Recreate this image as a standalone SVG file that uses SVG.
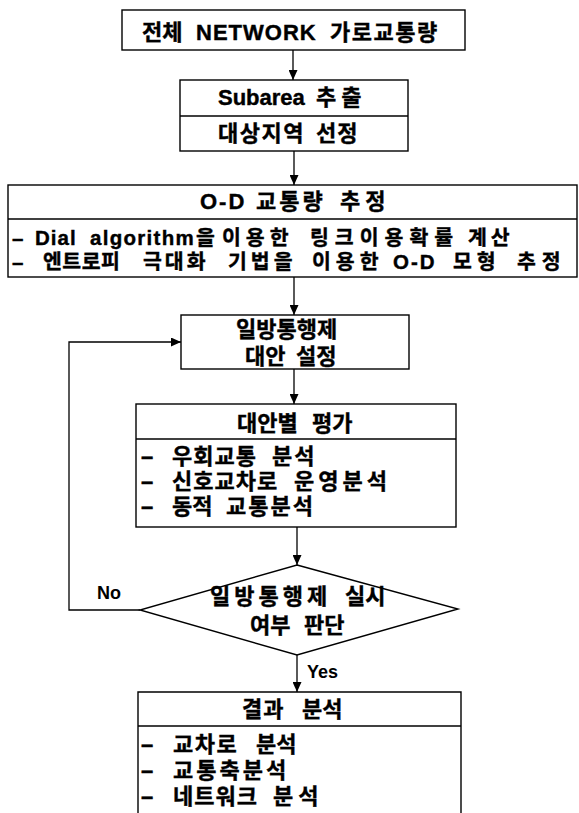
<svg xmlns="http://www.w3.org/2000/svg" width="579" height="813" viewBox="0 0 579 813">
<style>
.box{fill:none;stroke:#000;stroke-width:1.4}
.ln{fill:none;stroke:#000;stroke-width:1.3}
.t{font-family:"Liberation Sans","Noto Sans CJK KR",sans-serif;font-weight:bold;font-size:22px;fill:#000;stroke:#000;stroke-width:0.4}
.s{font-size:20.5px}
.lbl{font-family:"Liberation Sans","Noto Sans CJK KR",sans-serif;font-weight:bold;font-size:18px;fill:#000}
</style>
<defs>
<marker id="ah" markerUnits="userSpaceOnUse" markerWidth="10" markerHeight="9" refX="10" refY="4.5" orient="auto">
<path d="M0,0 L10,4.5 L0,9 z" fill="#000"/>
</marker>
</defs>
<rect width="579" height="813" fill="#fff"/>
<g id="connectors">
<line class="ln" x1="293" y1="50" x2="293" y2="80" marker-end="url(#ah)"/>
<line class="ln" x1="294" y1="151" x2="294" y2="185" marker-end="url(#ah)"/>
<line class="ln" x1="294" y1="277" x2="294" y2="315" marker-end="url(#ah)"/>
<line class="ln" x1="294" y1="369" x2="294" y2="404" marker-end="url(#ah)"/>
<line class="ln" x1="297" y1="527" x2="297" y2="565" marker-end="url(#ah)"/>
<line class="ln" x1="297" y1="655" x2="297" y2="692" marker-end="url(#ah)"/>
<polyline class="ln" points="140,610 69,610 69,342 181,342" marker-end="url(#ah)"/>
<text class="lbl" x="97" y="599">No</text>
<text class="lbl" x="307" y="678">Yes</text>
</g>
<g id="n1">
<rect class="box" x="122" y="10" width="343" height="40"/>
<text class="t" y="40"><tspan x="142">전체 </tspan><tspan x="196" letter-spacing="1">NETWORK </tspan><tspan x="330" letter-spacing="1.5">가로교통량</tspan></text>
</g>
<g id="n2">
<rect class="box" x="180" y="80" width="228" height="71"/>
<line class="box" x1="180" y1="116" x2="408" y2="116"/>
<text class="t" y="105"><tspan x="218">Subarea </tspan><tspan x="316" letter-spacing="5">추출</tspan></text>
<text class="t" y="141"><tspan x="218" letter-spacing="1.5">대상지역 </tspan><tspan x="316" letter-spacing="1">선정</tspan></text>
</g>
<g id="n3">
<rect class="box" x="8" y="185" width="569" height="92"/>
<line class="box" x1="8" y1="219" x2="577" y2="219"/>
<text class="t" y="209"><tspan x="200" letter-spacing="2">O-D </tspan><tspan x="256" letter-spacing="3">교통량 </tspan><tspan x="340" letter-spacing="5">추정</tspan></text>
<text class="t s" y="245"><tspan x="12">– </tspan><tspan x="35" letter-spacing="1">Dial </tspan><tspan x="90" letter-spacing="1.3">algorithm</tspan><tspan x="196">을 </tspan><tspan x="222" letter-spacing="5">이용한 </tspan><tspan x="310" letter-spacing="6">링크이용확률 </tspan><tspan x="468" letter-spacing="4">계산</tspan></text>
<text class="t s" y="269"><tspan x="12">– </tspan><tspan x="43" letter-spacing="0.5">엔트로피 </tspan><tspan x="143" letter-spacing="3">극대화 </tspan><tspan x="228" letter-spacing="4">기법을 </tspan><tspan x="312" letter-spacing="5">이용한 </tspan><tspan x="393" letter-spacing="2">O-D </tspan><tspan x="453" letter-spacing="5">모형 </tspan><tspan x="517" letter-spacing="6">추정</tspan></text>
</g>
<g id="n4">
<rect class="box" x="181" y="315" width="228" height="54"/>
<text class="t" x="236" y="337">일방통행제</text>
<text class="t" y="364"><tspan x="245">대안 </tspan><tspan x="296">설정</tspan></text>
</g>
<g id="n5">
<rect class="box" x="136" y="404" width="320" height="123"/>
<line class="box" x1="136" y1="439" x2="456" y2="439"/>
<text class="t" y="431"><tspan x="237">대안별 </tspan><tspan x="312">평가</tspan></text>
<text class="t" y="464"><tspan x="141">– </tspan><tspan x="172" letter-spacing="1">우회교통 </tspan><tspan x="272" letter-spacing="2">분석</tspan></text>
<text class="t" y="489"><tspan x="141">– </tspan><tspan x="172" letter-spacing="1">신호교차로 </tspan><tspan x="294" letter-spacing="4">운영분석</tspan></text>
<text class="t" y="514"><tspan x="141">– </tspan><tspan x="172">동적 </tspan><tspan x="226" letter-spacing="2">교통분석</tspan></text>
</g>
<g id="n6">
<polygon class="box" points="297,565 458,609 297,655 140,610"/>
<text class="t" y="604"><tspan x="210" letter-spacing="4">일방통행제 </tspan><tspan x="345">실시</tspan></text>
<text class="t" y="633"><tspan x="250">여부 </tspan><tspan x="304">판단</tspan></text>
</g>
<g id="n7">
<path class="box" d="M138,830 V692 H461 V830"/>
<line class="box" x1="138" y1="726" x2="461" y2="726"/>
<text class="t" y="717"><tspan x="242" letter-spacing="1">결과 </tspan><tspan x="302">분석</tspan></text>
<text class="t" y="752"><tspan x="141">– </tspan><tspan x="173" letter-spacing="1.5">교차로 </tspan><tspan x="256">분석</tspan></text>
<text class="t" y="778"><tspan x="141">– </tspan><tspan x="173" letter-spacing="3">교통축분석</tspan></text>
<text class="t" y="804"><tspan x="141">– </tspan><tspan x="173" letter-spacing="1">네트워크 </tspan><tspan x="273" letter-spacing="5">분석</tspan></text>
</g>
</svg>
